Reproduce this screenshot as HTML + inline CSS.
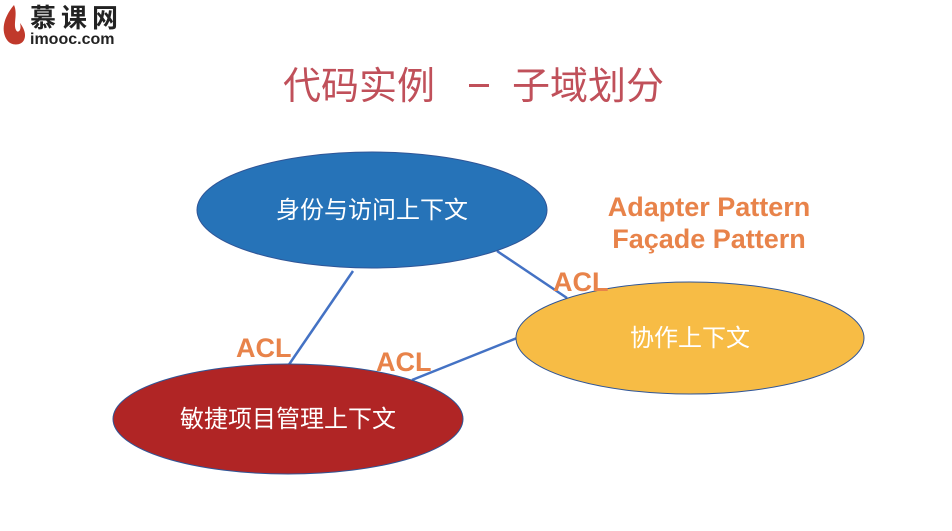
<!DOCTYPE html>
<html><head><meta charset="utf-8"><style>
body{margin:0;width:952px;height:531px;background:#fff;overflow:hidden;position:relative;font-family:"Liberation Sans","Noto Sans CJK SC",sans-serif}
</style></head><body>
<svg width="952" height="531" style="position:absolute;left:0;top:0" font-family="Liberation Sans, Noto Sans CJK SC, sans-serif">
<path d="M14 5 C3 18 1 31 7 40 C11 46 21 46 24 40 C27 34 23 27 20 23 C22 30 18 34 16 30 C13 24 18 14 14 5Z" fill="#c0392b"/>
<text x="30" y="27" font-size="26" font-weight="bold" fill="#222" letter-spacing="5">慕课网</text>
<text x="30" y="44" font-size="16" font-weight="bold" fill="#222">imooc.com</text>
<text x="283" y="99" font-size="38" fill="#c0505a">代码实例</text>
<rect x="469" y="84" width="20" height="3" fill="#c0505a"/>
<text x="512" y="99" font-size="38" fill="#c0505a">子域划分</text>
<line x1="353" y1="271" x2="288" y2="366" stroke="#4472c4" stroke-width="2.5"/>
<line x1="497" y1="251" x2="567" y2="298" stroke="#4472c4" stroke-width="2.5"/>
<line x1="412" y1="380" x2="517" y2="338" stroke="#4472c4" stroke-width="2.5"/>
<ellipse cx="372" cy="210" rx="175" ry="58" fill="#2673b8" stroke="#2f5597" stroke-width="1"/>
<ellipse cx="690" cy="338" rx="174" ry="56" fill="#f7bc45" stroke="#2f5597" stroke-width="1"/>
<ellipse cx="288" cy="419" rx="175" ry="55" fill="#b02525" stroke="#2f5597" stroke-width="1"/>
<text x="372" y="218" text-anchor="middle" font-size="24" fill="#fff">身份与访问上下文</text>
<text x="690" y="346" text-anchor="middle" font-size="24" fill="#fff">协作上下文</text>
<text x="288" y="427" text-anchor="middle" font-size="24" fill="#fff">敏捷项目管理上下文</text>
<g font-size="27" font-weight="bold" fill="#e8834a">
<text x="236" y="357">ACL</text>
<text x="376" y="371">ACL</text>
<text x="553" y="291">ACL</text>
<text x="709" y="216" text-anchor="middle">Adapter Pattern</text>
<text x="709" y="248" text-anchor="middle">Façade Pattern</text>
</g>
</svg>
</body></html>
